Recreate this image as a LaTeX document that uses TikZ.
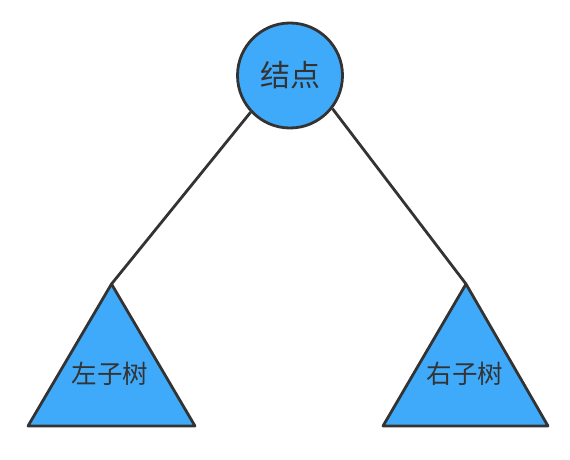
\documentclass[tikz,border=0pt]{standalone}
\usepackage{fontspec}
\newfontfamily\cjk{Noto Sans CJK SC}
\definecolor{fillblue}{RGB}{64,170,250}
\definecolor{strokegray}{RGB}{51,51,51}
\begin{document}
\begin{tikzpicture}[x=1pt,y=-1pt,
  shapeline/.style={draw=strokegray,line width=2.8pt,line join=round},
  label/.style={font=\cjk\fontsize{25.5}{25.5}\selectfont,text=strokegray,inner sep=0pt}]
\useasboundingbox (0,0) rectangle (570,460);
\node[circle,shapeline,fill=fillblue,minimum size=105pt,inner sep=0pt,
  font=\cjk\fontsize{30}{30}\selectfont,text=strokegray] (root) at (290,75.5) {结点};
\coordinate (lapex) at (111.5,284);
\coordinate (rapex) at (466,284);
\filldraw[shapeline,fill=fillblue] (lapex) -- (28,426) -- (195,426) -- cycle;
\filldraw[shapeline,fill=fillblue] (rapex) -- (383,426) -- (548,426) -- cycle;
\node[label] (left) at (110,374) {左子树};
\node[label] (right) at (465,374) {右子树};
\draw[draw=strokegray,line width=2.8pt] (root.223) -- (lapex);
\draw[draw=strokegray,line width=2.8pt] (root.322) -- (rapex);
\end{tikzpicture}
\end{document}
